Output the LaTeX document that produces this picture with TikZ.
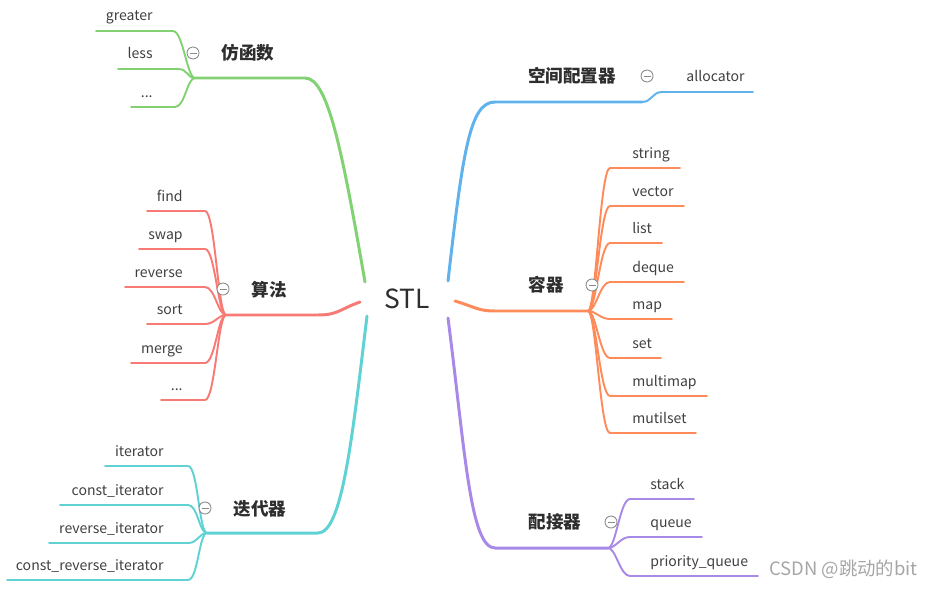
\documentclass[tikz,border=0pt]{standalone}
\usepackage{fontspec}
\setmainfont{Noto Sans CJK SC}
\usetikzlibrary{calc}
\definecolor{fungreen}{RGB}{130,210,115}
\definecolor{algred}{RGB}{247,122,116}
\definecolor{itcyan}{RGB}{96,210,212}
\definecolor{allocblue}{RGB}{96,178,236}
\definecolor{conorange}{RGB}{255,138,90}
\definecolor{adppurple}{RGB}{168,137,232}
\newcommand\etcdots{...}

\begin{document}
\begin{tikzpicture}[x=0.02cm, y=-0.02cm,
  trunk/.style={line width=1.7pt, line cap=round},
  twig/.style={line width=1.1pt, line cap=round},
  leaf/.style={text=black!75, font=\fontsize{8}{10}\selectfont, inner sep=0pt},
  topic/.style={text=black!82, font=\fontsize{10}{12}\selectfont\bfseries, inner sep=0pt},
  fold/.style={circle, draw=black!45, fill=white, line width=0.5pt, minimum size=0.24cm, inner sep=0pt}]
  \useasboundingbox (0,0) rectangle (932,588);

  % root
  \node[font=\fontsize{15}{18}\selectfont, text=black!82] (stl) at (407,299) {STL};

  % functors
  \coordinate (funS) at (365,282);
  \coordinate (funF) at (195,78);
  \draw[trunk, fungreen] (funS) .. controls (342,150) and (328,78) .. (305,78) -- (funF);
  \foreach \t/\y/\xa/\xb [count=\i] in {greater/31/173/96, less/69/178/118, \etcdots/107/175/131} {
    \coordinate (fun-\i-a) at (\xa,\y);
    \coordinate (fun-\i-b) at (\xb,\y);
    \draw[twig, fungreen] (funF) .. controls ($(funF)+(-8,0)$) and ($(fun-\i-a)+(10,0)$) .. (fun-\i-a) -- (fun-\i-b);
    \node[leaf, anchor=base east] (fun-\i) at (153,\y-10) {\t};
  }
  \node[topic] (fun) at (248,53) {仿函数};
  \node[fold] (funC) at (193,53) {};

  % algorithms
  \coordinate (algS) at (360,302);
  \coordinate (algF) at (226,315);
  \draw[trunk, algred] (algS) .. controls (340,309) and (338,315) .. (318,315) -- (algF);
  \foreach \t/\y/\xb [count=\i] in {find/211/147, swap/249/139, reverse/287/125, sort/324/147, merge/363/131, \etcdots/400/161} {
    \coordinate (alg-\i-a) at (205,\y);
    \coordinate (alg-\i-b) at (\xb,\y);
    \draw[twig, algred] (algF) .. controls ($(algF)+(-8,0)$) and ($(alg-\i-a)+(10,0)$) .. (alg-\i-a) -- (alg-\i-b);
    \node[leaf, anchor=base east] (alg-\i) at (183,\y-10) {\t};
  }
  \node[topic] (alg) at (269,290) {算法};
  \node[fold] (algC) at (223,289) {};

  % iterators
  \coordinate (itS) at (367,316);
  \coordinate (itF) at (207,533);
  \draw[trunk, itcyan] (itS) .. controls (352,440) and (342,533) .. (318,533) -- (itF);
  \foreach \t/\y/\xb [count=\i] in {iterator/466/105, const\_iterator/505/60, reverse\_iterator/543/49, const\_reverse\_iterator/580/7} {
    \coordinate (it-\i-a) at (188,\y);
    \coordinate (it-\i-b) at (\xb,\y);
    \draw[twig, itcyan] (itF) .. controls ($(itF)+(-8,0)$) and ($(it-\i-a)+(10,0)$) .. (it-\i-a) -- (it-\i-b);
    \node[leaf, anchor=base east] (it-\i) at (164,\y-10) {\t};
  }
  \node[topic] (it) at (260,509) {迭代器};
  \node[fold] (itC) at (205,508) {};

  % allocator
  \coordinate (allocS) at (448,281);
  \coordinate (allocF) at (642,102);
  \coordinate (alloc-1-a) at (662,92);
  \coordinate (alloc-1-b) at (753,92);
  \draw[trunk, allocblue] (allocS) .. controls (463,150) and (470,102) .. (495,102) -- (allocF);
  \draw[twig, allocblue] (allocF) .. controls ($(allocF)+(10,0)$) and ($(alloc-1-a)+(-10,0)$) .. (alloc-1-a) -- (alloc-1-b);
  \node[leaf, anchor=base west] (alloc-1) at (686,82) {allocator};
  \node[topic] (alloc) at (572,76) {空间配置器};
  \node[fold] (allocC) at (647,76) {};

  % containers
  \coordinate (conS) at (455,301);
  \coordinate (conF) at (588,311);
  \draw[trunk, conorange] (conS) .. controls (475,307) and (478,311) .. (495,311) -- (conF);
  \foreach \t/\y/\xb [count=\i] in {string/168/680, vector/206/684, list/243/662, deque/282/684, map/319/672, set/358/661, multimap/396/707, mutilset/433/696} {
    \coordinate (con-\i-a) at (610,\y);
    \coordinate (con-\i-b) at (\xb,\y);
    \draw[twig, conorange] (conF) .. controls ($(conF)+(8,0)$) and ($(con-\i-a)+(-10,0)$) .. (con-\i-a) -- (con-\i-b);
    \node[leaf, anchor=base west] (con-\i) at (632,\y-10) {\t};
  }
  \node[topic] (con) at (546,285) {容器};
  \node[fold] (conC) at (592,285) {};

  % adapters
  \coordinate (adpS) at (448,318);
  \coordinate (adpF) at (608,548);
  \draw[trunk, adppurple] (adpS) .. controls (465,450) and (470,548) .. (495,548) -- (adpF);
  \foreach \t/\y/\xb [count=\i] in {stack/499/694, queue/537/702, priority\_queue/576/758} {
    \coordinate (adp-\i-a) at (630,\y);
    \coordinate (adp-\i-b) at (\xb,\y);
    \draw[twig, adppurple] (adpF) .. controls ($(adpF)+(8,0)$) and ($(adp-\i-a)+(-10,0)$) .. (adp-\i-a) -- (adp-\i-b);
    \node[leaf, anchor=base west] (adp-\i) at (650,\y-10) {\t};
  }
  \node[topic] (adp) at (555,522) {配接器};
  \node[fold] (adpC) at (611,522) {};

  % fold marks
  \foreach \c in {funC, algC, itC, allocC, conC, adpC}
    \draw[black!45, line width=0.5pt] ($(\c)+(-3.5,0)$) -- ($(\c)+(3.5,0)$);

  % watermark
  \node[text=black!35, font=\fontsize{10.5}{12}\selectfont, anchor=west] (mark) at (763,569) {CSDN @跳动的bit};
\end{tikzpicture}
\end{document}
